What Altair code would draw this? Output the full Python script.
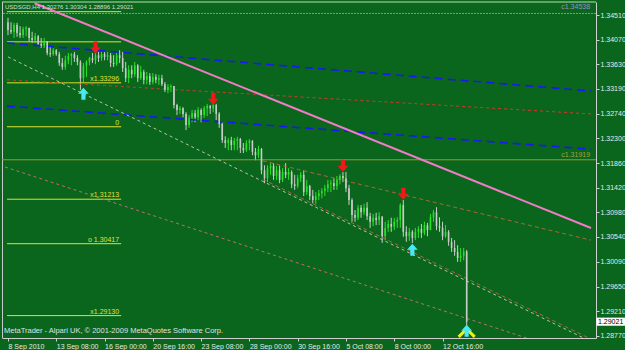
import altair as alt
import pandas as pd

# ---------------- data ----------------
TITLE = "USDSGD,H4 1.30276 1.30304 1.28896 1.29021"
FOOTER = "MetaTrader - Alpari UK, \u00a9 2001-2009 MetaQuotes Software Corp."

FIRST_OPEN = 1.3438
HIGH = [1.3446, 1.3438, 1.3437, 1.3437, 1.3431, 1.3430, 1.3431, 1.3428, 1.3421, 1.3419,
        1.3415, 1.3410, 1.3410, 1.3403, 1.3394, 1.3392, 1.3390, 1.3385, 1.3374, 1.3378,
        1.3383, 1.3383, 1.3385, 1.3379, 1.3370, 1.3365, 1.3370, 1.3376, 1.3383, 1.3385,
        1.3385, 1.3385, 1.3385, 1.3385, 1.3383, 1.3379, 1.3385, 1.3388, 1.3385, 1.3367,
        1.3361, 1.3361, 1.3367, 1.3363, 1.3360, 1.3353, 1.3349, 1.3347, 1.3347, 1.3345,
        1.3344, 1.3344, 1.3331, 1.3327, 1.3327, 1.3324, 1.3292, 1.3288, 1.3286, 1.3277,
        1.3272, 1.3281, 1.3281, 1.3286, 1.3284, 1.3288, 1.3292, 1.3290, 1.3293, 1.3292,
        1.3277, 1.3259, 1.3234, 1.3231, 1.3233, 1.3231, 1.3233, 1.3231, 1.3222, 1.3227,
        1.3229, 1.3227, 1.3213, 1.3217, 1.3213, 1.3182, 1.3182, 1.3186, 1.3186, 1.3181,
        1.3182, 1.3177, 1.3186, 1.3177, 1.3173, 1.3165, 1.3165, 1.3170, 1.3173, 1.3156,
        1.3147, 1.3138, 1.3134, 1.3138, 1.3141, 1.3147, 1.3156, 1.3156, 1.3159, 1.3163,
        1.3166, 1.3170, 1.3170, 1.3147, 1.3123, 1.3102, 1.3111, 1.3111, 1.3113, 1.3116,
        1.3097, 1.3095, 1.3097, 1.3098, 1.3088, 1.3081, 1.3084, 1.3088, 1.3088, 1.3089,
        1.3114, 1.3120, 1.3073, 1.3070, 1.3066, 1.3070, 1.3073, 1.3077, 1.3081, 1.3079,
        1.3095, 1.3102, 1.3107, 1.3089, 1.3081, 1.3075, 1.3066, 1.3052, 1.3048, 1.3039,
        1.3034, 1.3034, 1.30304]
LOW = [1.3415, 1.3417, 1.3410, 1.3412, 1.3410, 1.3410, 1.3413, 1.3403, 1.3401, 1.3401,
       1.3396, 1.3392, 1.3392, 1.3379, 1.3376, 1.3378, 1.3378, 1.3360, 1.3353, 1.3353,
       1.3363, 1.3361, 1.3367, 1.3361, 1.3317, 1.3331, 1.3340, 1.3361, 1.3365, 1.3363,
       1.3367, 1.3369, 1.3370, 1.3370, 1.3358, 1.3358, 1.3360, 1.3365, 1.3349, 1.3331,
       1.3329, 1.3338, 1.3340, 1.3331, 1.3335, 1.3327, 1.3327, 1.3326, 1.3327, 1.3329,
       1.3326, 1.3324, 1.3313, 1.3311, 1.3313, 1.3284, 1.3272, 1.3274, 1.3268, 1.3245,
       1.3249, 1.3259, 1.3259, 1.3263, 1.3259, 1.3267, 1.3270, 1.3274, 1.3277, 1.3263,
       1.3249, 1.3222, 1.3213, 1.3209, 1.3209, 1.3209, 1.3209, 1.3204, 1.3204, 1.3206,
       1.3209, 1.3200, 1.3191, 1.3195, 1.3166, 1.3150, 1.3152, 1.3165, 1.3156, 1.3156,
       1.3150, 1.3152, 1.3159, 1.3156, 1.3141, 1.3138, 1.3141, 1.3152, 1.3127, 1.3129,
       1.3120, 1.3114, 1.3113, 1.3120, 1.3123, 1.3127, 1.3134, 1.3134, 1.3138, 1.3138,
       1.3148, 1.3152, 1.3134, 1.3111, 1.3081, 1.3081, 1.3084, 1.3088, 1.3093, 1.3084,
       1.3070, 1.3073, 1.3075, 1.3075, 1.3043, 1.3048, 1.3063, 1.3063, 1.3066, 1.3070,
       1.3070, 1.3054, 1.3045, 1.3047, 1.3043, 1.3048, 1.3052, 1.3052, 1.3057, 1.3055,
       1.3066, 1.3081, 1.3066, 1.3063, 1.3048, 1.3052, 1.3038, 1.3027, 1.3020, 1.3009,
       1.3009, 1.3012, 1.28896]
CLOSE = [1.3424, 1.3421, 1.3433, 1.3419, 1.3415, 1.3426, 1.3428, 1.3410, 1.3406, 1.3413,
         1.3399, 1.3396, 1.3404, 1.3383, 1.3381, 1.3388, 1.3381, 1.3365, 1.3358, 1.3370,
         1.3378, 1.3381, 1.3374, 1.3367, 1.3338, 1.3360, 1.3367, 1.3374, 1.3370, 1.3379,
         1.3374, 1.3381, 1.3376, 1.3379, 1.3365, 1.3363, 1.3379, 1.3374, 1.3356, 1.3338,
         1.3353, 1.3345, 1.3361, 1.3338, 1.3349, 1.3335, 1.3342, 1.3331, 1.3340, 1.3335,
         1.3338, 1.3327, 1.3317, 1.3322, 1.3324, 1.3290, 1.3281, 1.3284, 1.3274, 1.3254,
         1.3267, 1.3275, 1.3268, 1.3281, 1.3272, 1.3284, 1.3288, 1.3284, 1.3290, 1.3274,
         1.3256, 1.3227, 1.3222, 1.3227, 1.3218, 1.3226, 1.3229, 1.3213, 1.3209, 1.3222,
         1.3226, 1.3206, 1.3200, 1.3211, 1.3173, 1.3159, 1.3177, 1.3181, 1.3163, 1.3173,
         1.3156, 1.3170, 1.3165, 1.3170, 1.3148, 1.3145, 1.3159, 1.3165, 1.3134, 1.3145,
         1.3127, 1.3120, 1.3127, 1.3132, 1.3136, 1.3141, 1.3148, 1.3150, 1.3145, 1.3156,
         1.3163, 1.3159, 1.3141, 1.3120, 1.3093, 1.3088, 1.3106, 1.3098, 1.3106, 1.3091,
         1.3081, 1.3088, 1.3084, 1.3091, 1.3055, 1.3070, 1.3077, 1.3072, 1.3081, 1.3084,
         1.3111, 1.3063, 1.3055, 1.3063, 1.3052, 1.3063, 1.3068, 1.3061, 1.3075, 1.3066,
         1.3089, 1.3098, 1.3073, 1.3070, 1.3055, 1.3063, 1.3045, 1.3034, 1.3027, 1.3016,
         1.3020, 1.30276, 1.29021]

X_TICK_BARS = [0, 16, 32, 48, 64, 80, 96, 112, 128, 144]
X_LABELS = ["8 Sep 2010", "13 Sep 08:00", "16 Sep 00:00", "20 Sep 16:00", "23 Sep 08:00",
            "28 Sep 00:00", "30 Sep 16:00", "5 Oct 08:00", "8 Oct 00:00", "12 Oct 16:00"]
Y_TICKS = [1.34510, 1.34070, 1.33630, 1.33190, 1.32740, 1.32300, 1.31860, 1.31420,
           1.30980, 1.30540, 1.30090, 1.29650, 1.29210, 1.28770]

# signal arrows (bar index, price)
RED_ARROW_BARS = [29, 68, 111, 131]
RED_ARROW_PRICES = [1.3393, 1.3301, 1.3181, 1.3131]
CYAN_ARROW_BARS = [25, 134, 152]
CYAN_ARROW_PRICES = [1.3310, 1.3031, 1.2886]
CHEVRON_BAR = [152]
CHEVRON_PRICE = [1.2882]

# Fibonacci-style short levels
FIB_LEVELS = [1.3457, 1.3403, 1.33296, 1.3251, 1.31213, 1.30417, 1.29130]
FIB_LABELS = ["", "", "x1.33296", "0", "x1.31213", "o 1.30417", "x1.29130"]
FIB_START, FIB_END = -0.33, 37.5

# full-width levels
LEVEL_PRICES = [1.34538, 1.31919]
LEVEL_LABELS = ["c1.34538", "c1.31919"]

LAST_PRICE = 1.29021

# trend lines: (bar start, price start, bar end, price end)
PINK_LINE = [8.8, 1.3472, 193.2, 1.30697]
BLUE_LINES = [[-0.33, 1.3401, 193.2, 1.3315], [-0.33, 1.3288, 193.2, 1.3211]]
RED_DOT_LINE = [-0.33, 1.3335, 193.2, 1.3274]
GREY_DOT_LINE = [0.0, 1.3376, 193.2, 1.28664]
BROWN_LINES = [[84.4, 1.3190, 193.2, 1.3048], [84.4, 1.3157, 193.2, 1.2871]]
RED_LOW_LINE = [-0.98, 1.3179, 193.2, 1.2835]

# ---------------- styling ----------------
BG = "#0A661C"
BULL = "#2CE02C"
BEAR = "#C8CCC8"
AXIS_C = "#D0D0D0"
LABEL_C = "#E8E8E8"
FONT = "Liberation Sans"

W, H = 594, 336
XDOM = [-0.33, 193.2]
YDOM = [1.28729, 1.34743]

n = len(CLOSE)
OPEN = [FIRST_OPEN] + CLOSE[:-1]
candles = pd.DataFrame({"i": list(range(n)), "open": OPEN, "high": HIGH,
                        "low": LOW, "close": CLOSE})
candles["dir"] = ["up" if c >= o else "down" for o, c in zip(OPEN, CLOSE)]

label_expr = "[" + ",".join("'%s'" % s for s in X_LABELS) + "][round(datum.value/16)]"

XS = alt.Scale(domain=XDOM, nice=False, zero=False)
YS = alt.Scale(domain=YDOM, nice=False, zero=False)

X_AXIS = alt.Axis(values=X_TICK_BARS, labelExpr=label_expr, labelAlign="left",
                  labelBaseline="top", labelPadding=1, tickSize=3, title=None,
                  labelOverlap=False, labelFlush=False, labelBound=False, grid=False)
Y_AXIS = alt.Axis(values=Y_TICKS, format=".5f", orient="right", tickSize=3,
                  labelPadding=1, title=None, labelOverlap=False, labelFlush=False,
                  labelBound=False, grid=False, labelBaseline="middle")


def X(f):
    return alt.X(f, scale=XS, axis=X_AXIS)


def Y(f):
    return alt.Y(f, scale=YS, axis=Y_AXIS)


color = alt.Color("dir:N", scale=alt.Scale(domain=["up", "down"], range=[BULL, BEAR]),
                  legend=None)

base = alt.Chart(candles)
wicks = base.mark_rule(strokeWidth=1).encode(
    x=X("i:Q"), y=Y("low:Q"), y2="high:Q", color=color)
bodies = base.mark_bar(size=1.6).encode(
    x=X("i:Q"), y=Y("open:Q"), y2="close:Q", color=color)


def seg_df(lines):
    return pd.DataFrame([{"x": l[0], "y": l[1], "x2": l[2], "y2": l[3]} for l in lines])


def seg_layer(lines, color, width=1.0, dash=None):
    kw = dict(color=color, strokeWidth=width, clip=True)
    if dash:
        kw["strokeDash"] = dash
    return alt.Chart(seg_df(lines)).mark_rule(**kw).encode(
        x=X("x:Q"), y=Y("y:Q"), x2="x2:Q", y2="y2:Q")


fib_df = pd.DataFrame({"p": FIB_LEVELS, "t": FIB_LABELS,
                       "x": [FIB_START] * len(FIB_LEVELS), "x2": [FIB_END] * len(FIB_LEVELS)})
fib_lines = alt.Chart(fib_df).mark_rule(color="#E0E030", strokeWidth=1).encode(
    x=X("x:Q"), x2="x2:Q", y=Y("p:Q"))
fib_text = alt.Chart(fib_df).mark_text(align="right", baseline="bottom", dy=-1, dx=-2,
                                       fontSize=7, font=FONT, color="#E0E040").encode(
    x=X("x2:Q"), y=Y("p:Q"), text="t:N")

lvl_df = pd.DataFrame({"p": LEVEL_PRICES, "t": LEVEL_LABELS, "x": [XDOM[1] - 0.3] * 2})
lvl_top = alt.Chart(lvl_df.iloc[[0]]).mark_rule(color="#9A86B0", strokeWidth=1,
                                                strokeDash=[2, 1]).encode(y=Y("p:Q"))
lvl_mid = alt.Chart(lvl_df.iloc[[1]]).mark_rule(color="#9A9A2E", strokeWidth=1).encode(y=Y("p:Q"))
lvl_top_t = alt.Chart(lvl_df.iloc[[0]]).mark_text(align="right", baseline="bottom", dy=-3,
                                                  fontSize=7, font=FONT, color="#A08CC0").encode(
    x=X("x:Q"), y=Y("p:Q"), text="t:N")
lvl_mid_t = alt.Chart(lvl_df.iloc[[1]]).mark_text(align="right", baseline="bottom", dy=-2,
                                                  fontSize=7, font=FONT, color="#A8A040").encode(
    x=X("x:Q"), y=Y("p:Q"), text="t:N")

DOWN_ARROW = "M-0.35,-1L0.35,-1L0.35,0L0.9,0L0,1L-0.9,0L-0.35,0Z"
UP_ARROW = "M-0.35,1L0.35,1L0.35,0L0.9,0L0,-1L-0.9,0L-0.35,0Z"
CHEVRON = "M-1,0.5L0,-0.5L1,0.5"
BOX = "M-1,-0.28L1,-0.28L1,0.28L-1,0.28Z"

red_df = pd.DataFrame({"i": RED_ARROW_BARS, "p": RED_ARROW_PRICES})
red_arrows = alt.Chart(red_df).mark_point(
    shape=DOWN_ARROW, filled=True, size=144, color="#F01818", opacity=1).encode(
    x=X("i:Q"), y=Y("p:Q"))
chev_df = pd.DataFrame({"i": CHEVRON_BAR, "p": CHEVRON_PRICE})
chevron = alt.Chart(chev_df).mark_point(
    shape=CHEVRON, filled=False, size=256, strokeWidth=3, color="#F0F010", opacity=1).encode(
    x=X("i:Q"), y=Y("p:Q"))
cyan_df = pd.DataFrame({"i": CYAN_ARROW_BARS, "p": CYAN_ARROW_PRICES})
cyan_arrows = alt.Chart(cyan_df).mark_point(
    shape=UP_ARROW, filled=True, size=144, color="#48E8F4", opacity=1).encode(
    x=X("i:Q"), y=Y("p:Q"))

one = pd.DataFrame({"a": [0]})
title = alt.Chart(one).mark_text(align="left", baseline="middle", fontSize=6, font=FONT,
                                 color="#D8D8D8").encode(
    x=alt.value(3), y=alt.value(5), text=alt.value(TITLE))
footer = alt.Chart(one).mark_text(align="left", baseline="middle", fontSize=7.5, font=FONT,
                                  color="#E0E0E0").encode(
    x=alt.value(2), y=alt.value(329), text=alt.value(FOOTER))
top_border = alt.Chart(one).mark_rule(color="#7FB87F", strokeWidth=1.5).encode(
    x=alt.value(0), x2=alt.value(W), y=alt.value(0))
left_border = alt.Chart(one).mark_rule(color="#C8C8C8", strokeWidth=1).encode(
    x=alt.value(0.5), y=alt.value(0), y2=alt.value(H))

price_df = pd.DataFrame({"p": [LAST_PRICE], "t": ["%.5f" % LAST_PRICE]})
price_box = alt.Chart(price_df).mark_point(shape=BOX, filled=True, size=841, color="#FFFFFF",
                                           opacity=1).encode(x=alt.value(609), y=Y("p:Q"))
price_txt = alt.Chart(price_df).mark_text(align="left", baseline="middle", fontSize=7, font=FONT,
                                          color="#000000").encode(
    x=alt.value(596), y=Y("p:Q"), text="t:N")

chart = alt.layer(
    wicks,
    top_border, left_border,
    fib_lines, fib_text,
    lvl_top, lvl_mid, lvl_top_t, lvl_mid_t,
    seg_layer(BLUE_LINES, "#1A1AF0", 1.6, [8, 5]),
    seg_layer([RED_DOT_LINE], "#D03A2A", 1, [3, 3]),
    seg_layer([RED_LOW_LINE], "#B87070", 1, [3, 3]),
    seg_layer([GREY_DOT_LINE], "#BDBDB5", 1, [3, 3]),
    seg_layer(BROWN_LINES, "#A8683A", 1, [4, 3]),
    seg_layer([PINK_LINE], "#F07CC8", 2),
    bodies,
    red_arrows, chevron, cyan_arrows,
    price_box, price_txt,
    title, footer,
).properties(
    width=W, height=H,
    padding={"left": 2, "top": 2, "right": 29, "bottom": 12},
    autosize=alt.AutoSizeParams(type="none"),
).configure(background=BG, font=FONT).configure_view(
    stroke=None, fill=BG
).configure_axis(
    labelOverlap=False, labelFlush=False, labelBound=False, grid=False,
    tickColor=AXIS_C, domainColor=AXIS_C, labelColor=LABEL_C,
    labelFontSize=7, labelFont=FONT,
)

chart.save("out.html", embed_options={"renderer": "svg", "actions": False})
